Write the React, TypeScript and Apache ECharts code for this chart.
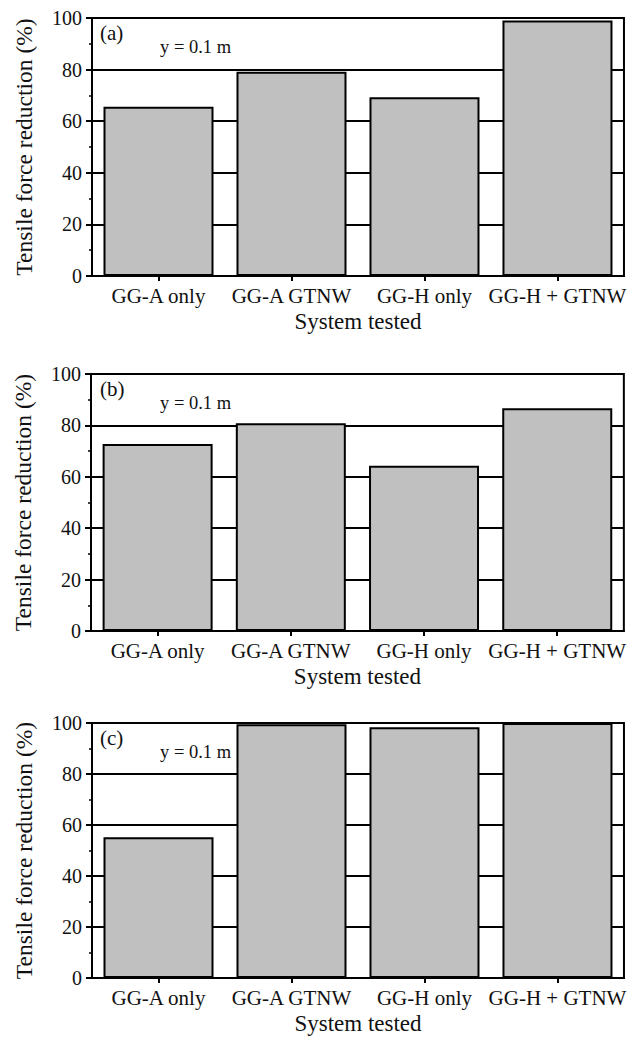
import React, { useEffect, useRef } from 'react';
import * as echarts from 'echarts';

// Tested reinforcement systems (x categories)
const systems = ['GG-A only', 'GG-A GTNW', 'GG-H only', 'GG-H + GTNW'];

// Tensile force reduction (%) per panel
const reductionA = [65.6, 79.2, 69.3, 99];
const reductionB = [72.8, 80.8, 64.3, 86.7];
const reductionC = [55.2, 99.5, 98.3, 100];

const panelTags = ['(a)', '(b)', '(c)'];
const depthNote = 'y = 0.1 m';

const yMin = 0;
const yMax = 100;
const yStep = 20;

const xTitle = 'System tested';
const yTitle = 'Tensile force reduction (%)';

const FONT = '"Liberation Serif", "Times New Roman", Times, serif';
const INK = '#111';

// Pixel layout of the three stacked panels
const layouts = [
  { top: 18, height: 258, left: 92, right: 2 },
  { top: 374, height: 257, left: 91, right: 4 },
  { top: 723, height: 255, left: 92, right: 2 },
];

const panelSeries = [reductionA, reductionB, reductionC];

export default function App() {
  const ref = useRef<HTMLDivElement>(null);

  useEffect(() => {
    if (!ref.current) return;
    const chart = echarts.init(ref.current, undefined, { renderer: 'svg' });

    const grid = layouts.map((l) => ({
      top: l.top,
      height: l.height,
      left: l.left,
      right: l.right,
      show: true,
      borderColor: '#000',
      borderWidth: 2,
      backgroundColor: 'transparent',
    }));

    const xAxis = layouts.map((_, i) => ({
      type: 'category',
      gridIndex: i,
      data: systems,
      boundaryGap: true,
      axisLine: { show: true, lineStyle: { color: '#000', width: 2 } },
      axisTick: {
        show: true,
        alignWithLabel: true,
        length: 5,
        lineStyle: { color: '#000', width: 2 },
      },
      axisLabel: {
        color: INK,
        fontFamily: FONT,
        fontSize: 21,
        margin: 9,
        interval: 0,
      },
      splitLine: { show: false },
      name: xTitle,
      nameLocation: 'middle',
      nameGap: 34,
      nameTextStyle: { color: INK, fontFamily: FONT, fontSize: 23 },
    }));

    const yAxis = layouts.map((_, i) => ({
      type: 'value',
      gridIndex: i,
      min: yMin,
      max: yMax,
      interval: yStep,
      axisLine: { show: true, lineStyle: { color: '#000', width: 2 } },
      axisTick: {
        show: true,
        inside: false,
        length: 6,
        lineStyle: { color: '#000', width: 2 },
      },
      minorTick: {
        show: true,
        splitNumber: 2,
        length: 3,
        lineStyle: { color: '#000', width: 1.5 },
      },
      axisLabel: {
        color: INK,
        fontFamily: FONT,
        fontSize: 20,
        margin: 10,
      },
      splitLine: { show: true, lineStyle: { color: '#000', width: 2 } },
      name: yTitle,
      nameLocation: 'middle',
      nameGap: 56,
      nameTextStyle: { color: INK, fontFamily: FONT, fontSize: 23.5 },
    }));

    const series = panelSeries.map((values, i) => ({
      type: 'bar',
      xAxisIndex: i,
      yAxisIndex: i,
      data: values,
      barWidth: 110,
      itemStyle: {
        color: '#c0c0c0',
        borderColor: '#000',
        borderWidth: 2,
      },
    }));

    const graphic: any[] = [];
    layouts.forEach((l, i) => {
      graphic.push({
        type: 'text',
        x: 100,
        y: l.top + 15,
        style: {
          text: panelTags[i],
          fill: INK,
          font: `21px ${FONT}`,
          verticalAlign: 'middle',
        },
        z: 10,
      });
      graphic.push({
        type: 'text',
        x: 160,
        y: l.top + 29,
        style: {
          text: depthNote,
          fill: INK,
          font: `18.5px ${FONT}`,
          verticalAlign: 'middle',
        },
        z: 10,
      });
    });

    chart.setOption({
      animation: false,
      backgroundColor: '#fff',
      grid,
      xAxis,
      yAxis,
      series,
      graphic,
    } as any);

    return () => chart.dispose();
  }, []);

  return (
    <div
      ref={ref}
      style={{ position: 'absolute', left: 0, top: 0, width: 629, height: 1038 }}
    />
  );
}
